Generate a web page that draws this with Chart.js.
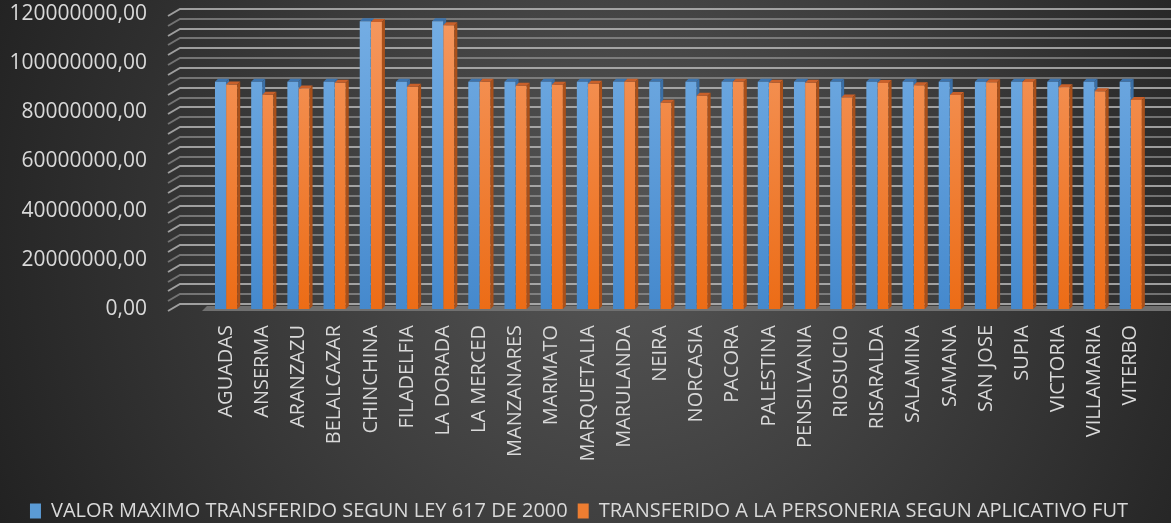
<!DOCTYPE html>
<html>
<head>
<meta charset="utf-8">
<script src="https://cdn.jsdelivr.net/npm/chart.js@4.4.1/dist/chart.umd.min.js"></script>
<style>
  html, body { margin: 0; padding: 0; background: #2a2a2a; }
  #wrap { width: 1171px; height: 523px; }
</style>
</head>
<body>
<div id="wrap"><canvas id="myChart"></canvas></div>
<script>
// datos
const categorias = ['AGUADAS','ANSERMA','ARANZAZU','BELALCAZAR','CHINCHINA','FILADELFIA','LA DORADA','LA MERCED',
  'MANZANARES','MARMATO','MARQUETALIA','MARULANDA','NEIRA','NORCASIA','PACORA','PALESTINA','PENSILVANIA',
  'RIOSUCIO','RISARALDA','SALAMINA','SAMANA','SAN JOSE','SUPIA','VICTORIA','VILLAMARIA','VITERBO'];

const valorMaximo = [92400000,92400000,92400000,92400000,117040000,92400000,117040000,92400000,
  92400000,92400000,92400000,92400000,92400000,92400000,92400000,92400000,92400000,
  92400000,92400000,92400000,92400000,92400000,92400000,92400000,92400000,92400000];

const transferido = [91300000,87200000,89700000,92000000,116700000,90400000,115400000,92400000,
  90800000,91200000,91600000,92400000,83900000,86700000,92400000,92000000,92000000,
  86000000,91900000,91000000,87100000,92200000,92300000,90200000,88600000,85000000];

const etiquetasSeries = ['VALOR MAXIMO TRANSFERIDO SEGUN LEY 617 DE 2000', 'TRANSFERIDO A LA PERSONERIA SEGUN APLICATIVO FUT'];
const yMax = 120000000;
const yPaso = 20000000;
const rejillaPaso = 4000000;

const colorTexto = '#d9d9d9';

function degradado(ctx, arriba, abajo) {
  const chart = ctx.chart;
  const area = chart.chartArea;
  if (!area) return abajo;
  const g = chart.ctx.createLinearGradient(0, area.top, 0, area.bottom);
  g.addColorStop(0, arriba);
  g.addColorStop(1, abajo);
  return g;
}

// fondo gris oscuro con brillo al centro
const fondo = {
  id: 'fondo',
  beforeDraw(chart) {
    const { ctx, width, height } = chart;
    const g = ctx.createRadialGradient(620, 240, 10, 620, 240, 720);
    g.addColorStop(0, '#555555');
    g.addColorStop(1, '#1f1f1f');
    ctx.save();
    ctx.fillStyle = g;
    ctx.fillRect(0, 0, width, height);
    ctx.restore();
  }
};

// lineas de la pared del fondo, piso y caras 3d de las barras azules
const pared = {
  id: 'pared',
  beforeDatasetsDraw(chart) {
    const { ctx, chartArea, scales: { y } } = chart;
    ctx.save();
    ctx.lineWidth = 2;
    for (let v = 0; v <= yMax; v += rejillaPaso) {
      const py = Math.round(y.getPixelForValue(v)) - 5;
      ctx.strokeStyle = (v / rejillaPaso) % 2 ? 'rgba(160,160,160,0.6)' : 'rgba(195,195,195,0.75)';
      ctx.beginPath();
      ctx.moveTo(chartArea.left - 40, py + 7);
      ctx.lineTo(chartArea.left - 28, py);
      ctx.lineTo(chart.width, py);
      ctx.stroke();
    }
    // piso
    const b = y.getPixelForValue(0);
    ctx.fillStyle = '#707070';
    ctx.beginPath();
    ctx.moveTo(chartArea.left - 6, b + 2);
    ctx.lineTo(chart.width, b + 2);
    ctx.lineTo(chart.width, b - 3);
    ctx.lineTo(chartArea.left - 1, b - 3);
    ctx.closePath();
    ctx.fill();

    // caras de las barras azules (quedan detras de las naranjas)
    chart.getDatasetMeta(0).data.forEach(bar => {
      const p = bar.getProps(['x', 'y', 'base', 'width'], true);
      const l = p.x - p.width / 2, r = p.x + p.width / 2;
      const d = 3;
      ctx.fillStyle = '#3c73ad';
      ctx.beginPath();
      ctx.moveTo(l, p.y); ctx.lineTo(r, p.y); ctx.lineTo(r + d, p.y - d); ctx.lineTo(l + d, p.y - d);
      ctx.closePath(); ctx.fill();
      ctx.fillStyle = '#3a6fa6';
      ctx.beginPath();
      ctx.moveTo(r, p.y); ctx.lineTo(r + d, p.y - d); ctx.lineTo(r + d, p.base - d); ctx.lineTo(r, p.base);
      ctx.closePath(); ctx.fill();
    });
    ctx.restore();
  },
  afterDatasetsDraw(chart) {
    const { ctx } = chart;
    ctx.save();
    chart.getDatasetMeta(1).data.forEach(bar => {
      const p = bar.getProps(['x', 'y', 'base', 'width'], true);
      const l = p.x - p.width / 2, r = p.x + p.width / 2;
      const d = 3;
      ctx.fillStyle = '#c8602a';
      ctx.beginPath();
      ctx.moveTo(l, p.y); ctx.lineTo(r, p.y); ctx.lineTo(r + d, p.y - d); ctx.lineTo(l + d, p.y - d);
      ctx.closePath(); ctx.fill();
      ctx.fillStyle = '#a9501a';
      ctx.beginPath();
      ctx.moveTo(r, p.y); ctx.lineTo(r + d, p.y - d); ctx.lineTo(r + d, p.base - d); ctx.lineTo(r, p.base);
      ctx.closePath(); ctx.fill();
    });
    ctx.restore();
  }
};

const ctx = document.getElementById('myChart');

new Chart(ctx, {
  type: 'bar',
  data: {
    labels: categorias,
    datasets: [{
      label: etiquetasSeries[0],
      data: valorMaximo,
      backgroundColor: c => degradado(c, '#75aee4', '#4589cd'),
      borderWidth: 0
    }, {
      label: etiquetasSeries[1],
      data: transferido,
      backgroundColor: c => degradado(c, '#f59860', '#ec6c16'),
      borderWidth: 0
    }]
  },
  options: {
    responsive: true,
    maintainAspectRatio: false,
    animation: false,
    layout: { padding: { left: 0, right: 13, top: 14, bottom: -8 } },
    datasets: { bar: { categoryPercentage: 0.62, barPercentage: 0.98 } },
    plugins: {
      tooltip: { enabled: false },
      legend: {
        position: 'bottom',
        labels: {
          color: colorTexto,
          font: { family: 'Open Sans', size: 20 },
          boxWidth: 11,
          boxHeight: 15,
          padding: 10,
          generateLabels(chart) {
            const colores = ['#5b9bd5', '#ed7d31'];
            return chart.data.datasets.map((ds, i) => ({
              text: ds.label,
              fillStyle: colores[i],
              strokeStyle: colores[i],
              lineWidth: 0,
              fontColor: colorTexto,
              datasetIndex: i
            }));
          }
        }
      }
    },
    scales: {
      x: {
        grid: { display: false, drawTicks: false },
        border: { display: false },
        ticks: {
          color: colorTexto,
          font: { family: 'Open Sans', size: 20 },
          autoSkip: false,
          minRotation: 90,
          maxRotation: 90,
          padding: 16
        },
        afterFit(scale) { scale.height = 182; }
      },
      y: {
        min: 0,
        max: yMax,
        grid: { display: false, drawTicks: false },
        border: { display: false },
        ticks: {
          stepSize: yPaso,
          color: colorTexto,
          padding: 61,
          font: { family: 'Open Sans', size: 21 },
          callback: v => v.toFixed(2).replace('.', ',')
        },
        afterFit(scale) {
          scale.width = 208;
          scale.paddingTop = 8;
          scale.paddingBottom = 8;
        }
      }
    }
  },
  plugins: [fondo, pared]
});
</script>
</body>
</html>
